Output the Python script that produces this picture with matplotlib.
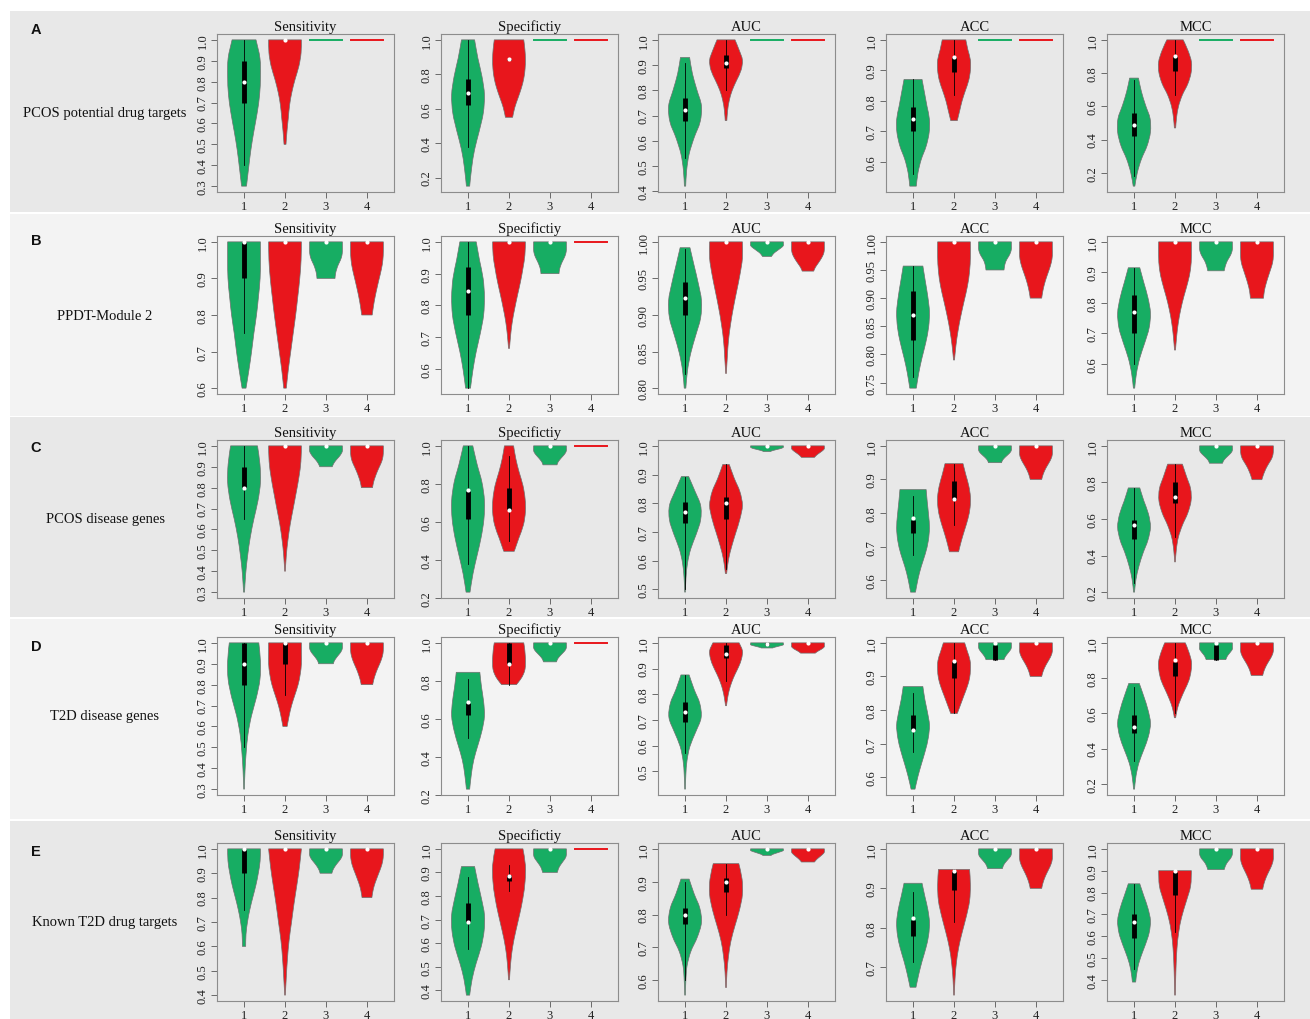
import numpy as np
import matplotlib
matplotlib.use("Agg")
import matplotlib.pyplot as plt
from matplotlib.path import Path
from matplotlib.patches import PathPatch, Rectangle

# each violin: (min, max, relative half-widths from min to max, (whisker lo, q1, median, q3, whisker hi))
ONE = (1.0, 1.0, 1.0, 1.0, 1.0)
FLAT = (1.0, 1.0, None, None)

row_letters = ["A", "B", "C", "D", "E"]
row_labels = ["PCOS potential drug targets", "PPDT-Module 2", "PCOS disease genes",
              "T2D disease genes", "Known T2D drug targets"]
metrics = ["Sensitivity", "Specifictiy", "AUC", "ACC", "MCC"]
groups = ["1", "2", "3", "4"]
group_colors = ["#17ad63", "#e8161c", "#17ad63", "#e8161c"]

A_sensitivity = [
    (0.30, 1.00, [0.15, 0.28, 0.42, 0.60, 0.80, 0.95, 1.00, 0.97, 0.73], (0.40, 0.70, 0.80, 0.90, 1.00)),
    (0.50, 1.00, [0.06, 0.12, 0.20, 0.28, 0.42, 0.62, 0.85, 0.98, 1.00], ONE),
    FLAT, FLAT]
A_specificity = [
    (0.15, 1.00, [0.10, 0.22, 0.40, 0.68, 0.93, 1.00, 0.85, 0.60, 0.40], (0.38, 0.62, 0.69, 0.77, 1.00)),
    (0.55, 1.00, [0.22, 0.35, 0.55, 0.75, 0.90, 0.98, 1.00, 0.97, 0.90], (0.89, 0.885, 0.89, 0.89, 0.89)),
    FLAT, FLAT]
A_auc = [
    (0.42, 0.93, [0.04, 0.10, 0.25, 0.55, 0.92, 1.00, 0.72, 0.45, 0.28], (0.53, 0.68, 0.72, 0.77, 0.91)),
    (0.68, 1.00, [0.05, 0.10, 0.20, 0.38, 0.65, 0.92, 1.00, 0.80, 0.55], (0.80, 0.89, 0.91, 0.94, 1.00)),
    FLAT, FLAT]
A_acc = [
    (0.52, 0.87, [0.20, 0.30, 0.50, 0.80, 0.98, 1.00, 0.85, 0.70, 0.55], (0.56, 0.70, 0.74, 0.78, 0.87)),
    (0.735, 1.00, [0.20, 0.35, 0.50, 0.70, 0.90, 1.00, 1.00, 0.85, 0.72], (0.82, 0.895, 0.945, 0.945, 1.00)),
    FLAT, FLAT]
A_mcc = [
    (0.12, 0.77, [0.05, 0.20, 0.45, 0.80, 1.00, 0.98, 0.70, 0.45, 0.27], (0.18, 0.42, 0.49, 0.56, 0.76)),
    (0.47, 1.00, [0.04, 0.10, 0.22, 0.45, 0.78, 0.98, 1.00, 0.80, 0.50], (0.67, 0.81, 0.90, 0.90, 1.00)),
    FLAT, FLAT]

B_sensitivity = [
    (0.60, 1.00, [0.12, 0.30, 0.46, 0.60, 0.76, 0.88, 0.98, 1.00, 1.00], (0.75, 0.90, 1.00, 1.00, 1.00)),
    (0.60, 1.00, [0.08, 0.20, 0.35, 0.50, 0.65, 0.78, 0.90, 0.98, 1.00], ONE),
    (0.90, 1.00, [0.55, 0.58, 0.65, 0.75, 0.88, 0.97, 1.00, 1.00, 1.00], ONE),
    (0.80, 1.00, [0.32, 0.40, 0.50, 0.62, 0.75, 0.88, 0.97, 1.00, 1.00], ONE)]
B_specificity = [
    (0.54, 1.00, [0.15, 0.30, 0.50, 0.75, 0.95, 1.00, 0.92, 0.70, 0.50], (0.54, 0.77, 0.845, 0.92, 1.00)),
    (0.665, 1.00, [0.03, 0.10, 0.20, 0.35, 0.52, 0.70, 0.85, 0.97, 1.00], ONE),
    (0.90, 1.00, [0.55, 0.58, 0.65, 0.75, 0.87, 0.96, 1.00, 1.00, 1.00], ONE),
    FLAT]
B_auc = [
    (0.80, 0.992, [0.05, 0.15, 0.35, 0.65, 0.95, 1.00, 0.80, 0.55, 0.30], (0.82, 0.90, 0.923, 0.945, 0.99)),
    (0.82, 1.00, [0.02, 0.08, 0.15, 0.28, 0.45, 0.65, 0.85, 1.00, 1.00], ONE),
    (0.98, 1.00, [0.27, 0.35, 0.45, 0.60, 0.75, 0.90, 1.00, 1.00, 1.00], ONE),
    (0.96, 1.00, [0.35, 0.45, 0.60, 0.75, 0.88, 0.97, 1.00, 1.00, 1.00], ONE)]
B_acc = [
    (0.74, 0.957, [0.20, 0.35, 0.55, 0.78, 0.95, 1.00, 0.90, 0.75, 0.60], (0.76, 0.826, 0.87, 0.913, 0.957)),
    (0.79, 1.00, [0.03, 0.12, 0.25, 0.42, 0.62, 0.82, 0.95, 1.00, 1.00], ONE),
    (0.95, 1.00, [0.55, 0.58, 0.63, 0.72, 0.85, 0.95, 1.00, 1.00, 1.00], ONE),
    (0.90, 1.00, [0.35, 0.42, 0.52, 0.65, 0.80, 0.93, 1.00, 1.00, 1.00], ONE)]
B_mcc = [
    (0.52, 0.915, [0.04, 0.15, 0.35, 0.65, 0.92, 1.00, 0.85, 0.60, 0.35], (0.60, 0.70, 0.77, 0.825, 0.915)),
    (0.645, 1.00, [0.03, 0.10, 0.20, 0.35, 0.55, 0.78, 0.95, 1.00, 1.00], ONE),
    (0.905, 1.00, [0.50, 0.55, 0.62, 0.72, 0.85, 0.95, 1.00, 1.00, 1.00], ONE),
    (0.815, 1.00, [0.40, 0.45, 0.55, 0.68, 0.82, 0.95, 1.00, 1.00, 1.00], ONE)]

C_sensitivity = [
    (0.30, 1.00, [0.03, 0.10, 0.22, 0.38, 0.60, 0.85, 1.00, 0.97, 0.82], (0.65, 0.80, 0.80, 0.90, 1.00)),
    (0.40, 1.00, [0.02, 0.08, 0.18, 0.32, 0.50, 0.68, 0.85, 0.97, 1.00], ONE),
    (0.90, 1.00, [0.38, 0.45, 0.55, 0.68, 0.82, 0.93, 1.00, 1.00, 1.00], ONE),
    (0.80, 1.00, [0.34, 0.40, 0.50, 0.62, 0.76, 0.90, 0.98, 1.00, 1.00], ONE)]
C_specificity = [
    (0.23, 1.00, [0.12, 0.30, 0.55, 0.80, 0.97, 1.00, 0.85, 0.55, 0.29], (0.38, 0.615, 0.77, 0.765, 1.00)),
    (0.445, 1.00, [0.32, 0.60, 0.88, 1.00, 0.98, 0.85, 0.62, 0.42, 0.28], (0.50, 0.665, 0.665, 0.78, 0.945)),
    (0.90, 1.00, [0.43, 0.48, 0.58, 0.70, 0.83, 0.94, 1.00, 1.00, 1.00], ONE),
    FLAT]
C_auc = [
    (0.49, 0.893, [0.02, 0.06, 0.15, 0.35, 0.68, 0.95, 0.95, 0.60, 0.22], (0.50, 0.73, 0.77, 0.805, 0.89)),
    (0.555, 0.935, [0.04, 0.15, 0.35, 0.60, 0.85, 1.00, 0.85, 0.50, 0.20], (0.57, 0.745, 0.80, 0.82, 0.935)),
    (0.98, 1.00, [0.20, 0.30, 0.45, 0.62, 0.80, 0.93, 1.00, 1.00, 1.00], ONE),
    (0.96, 1.00, [0.40, 0.48, 0.58, 0.70, 0.82, 0.93, 1.00, 1.00, 1.00], ONE)]
C_acc = [
    (0.565, 0.87, [0.15, 0.30, 0.50, 0.75, 0.93, 1.00, 0.95, 0.87, 0.80], (0.675, 0.74, 0.785, 0.78, 0.85)),
    (0.685, 0.947, [0.28, 0.45, 0.65, 0.85, 0.98, 1.00, 0.90, 0.72, 0.55], (0.765, 0.84, 0.842, 0.895, 0.947)),
    (0.95, 1.00, [0.40, 0.45, 0.55, 0.68, 0.82, 0.94, 1.00, 1.00, 1.00], ONE),
    (0.90, 1.00, [0.35, 0.42, 0.52, 0.65, 0.80, 0.93, 1.00, 1.00, 1.00], ONE)]
C_mcc = [
    (0.20, 0.77, [0.03, 0.12, 0.30, 0.55, 0.85, 1.00, 0.88, 0.60, 0.35], (0.25, 0.49, 0.565, 0.595, 0.77)),
    (0.365, 0.90, [0.02, 0.08, 0.20, 0.45, 0.78, 0.98, 0.95, 0.70, 0.45], (0.50, 0.69, 0.72, 0.80, 0.90)),
    (0.905, 1.00, [0.40, 0.45, 0.55, 0.68, 0.82, 0.94, 1.00, 1.00, 1.00], ONE),
    (0.815, 1.00, [0.30, 0.38, 0.48, 0.60, 0.75, 0.90, 0.98, 1.00, 1.00], ONE)]

D_sensitivity = [
    (0.30, 1.00, [0.02, 0.06, 0.13, 0.24, 0.45, 0.75, 0.97, 1.00, 0.90], (0.50, 0.80, 0.90, 1.00, 1.00)),
    (0.60, 1.00, [0.13, 0.25, 0.40, 0.60, 0.80, 0.93, 1.00, 1.00, 1.00], (0.75, 0.90, 1.00, 1.00, 1.00)),
    (0.90, 1.00, [0.45, 0.50, 0.60, 0.72, 0.85, 0.95, 1.00, 1.00, 1.00], ONE),
    (0.80, 1.00, [0.35, 0.42, 0.52, 0.64, 0.78, 0.90, 0.98, 1.00, 1.00], ONE)]
D_specificity = [
    (0.23, 0.845, [0.10, 0.20, 0.35, 0.60, 0.85, 1.00, 0.95, 0.82, 0.72], (0.50, 0.62, 0.69, 0.685, 0.81)),
    (0.78, 1.00, [0.45, 0.70, 0.88, 0.98, 1.00, 1.00, 0.98, 0.95, 0.90], (0.78, 0.89, 0.89, 1.00, 1.00)),
    (0.90, 1.00, [0.40, 0.45, 0.55, 0.68, 0.82, 0.94, 1.00, 1.00, 1.00], ONE),
    FLAT]
D_auc = [
    (0.43, 0.875, [0.02, 0.05, 0.12, 0.30, 0.65, 0.98, 0.90, 0.55, 0.25], (0.57, 0.69, 0.73, 0.77, 0.875)),
    (0.755, 1.00, [0.03, 0.10, 0.20, 0.35, 0.55, 0.78, 0.95, 1.00, 0.80], (0.85, 0.94, 0.955, 0.99, 1.00)),
    (0.98, 1.00, [0.35, 0.45, 0.60, 0.75, 0.90, 1.00, 1.00, 1.00, 1.00], (0.99, 0.99, 0.995, 1.00, 1.00)),
    (0.96, 1.00, [0.45, 0.55, 0.68, 0.82, 0.93, 1.00, 1.00, 1.00, 1.00], ONE)]
D_acc = [
    (0.565, 0.87, [0.12, 0.30, 0.52, 0.75, 0.93, 1.00, 0.88, 0.72, 0.60], (0.675, 0.74, 0.74, 0.785, 0.85)),
    (0.79, 1.00, [0.20, 0.40, 0.60, 0.80, 0.95, 1.00, 0.98, 0.82, 0.65], (0.79, 0.895, 0.945, 0.945, 1.00)),
    (0.95, 1.00, [0.55, 0.60, 0.68, 0.78, 0.88, 0.97, 1.00, 1.00, 1.00], (0.95, 0.95, 1.00, 0.995, 1.00)),
    (0.90, 1.00, [0.35, 0.42, 0.52, 0.65, 0.80, 0.93, 1.00, 1.00, 1.00], ONE)]
D_mcc = [
    (0.17, 0.77, [0.03, 0.12, 0.30, 0.60, 0.88, 1.00, 0.85, 0.60, 0.32], (0.33, 0.49, 0.525, 0.59, 0.75)),
    (0.575, 1.00, [0.04, 0.15, 0.35, 0.60, 0.85, 0.98, 1.00, 0.85, 0.63], (0.60, 0.81, 0.90, 0.89, 1.00)),
    (0.905, 1.00, [0.60, 0.65, 0.72, 0.82, 0.92, 1.00, 1.00, 1.00, 1.00], (0.905, 0.905, 1.00, 0.99, 1.00)),
    (0.815, 1.00, [0.35, 0.42, 0.52, 0.65, 0.80, 0.93, 1.00, 1.00, 1.00], ONE)]

E_sensitivity = [
    (0.60, 1.00, [0.10, 0.12, 0.21, 0.35, 0.53, 0.72, 0.87, 0.98, 1.00], (0.75, 0.90, 1.00, 1.00, 1.00)),
    (0.40, 1.00, [0.02, 0.08, 0.15, 0.25, 0.40, 0.55, 0.72, 0.88, 1.00], ONE),
    (0.90, 1.00, [0.36, 0.42, 0.52, 0.65, 0.80, 0.93, 1.00, 1.00, 1.00], ONE),
    (0.80, 1.00, [0.30, 0.36, 0.45, 0.58, 0.72, 0.86, 0.96, 1.00, 1.00], ONE)]
E_specificity = [
    (0.38, 0.925, [0.10, 0.25, 0.50, 0.80, 0.98, 1.00, 0.82, 0.60, 0.40], (0.575, 0.69, 0.69, 0.77, 0.88)),
    (0.445, 1.00, [0.03, 0.10, 0.22, 0.42, 0.65, 0.85, 0.98, 1.00, 0.85], (0.82, 0.865, 0.885, 0.89, 0.93)),
    (0.90, 1.00, [0.45, 0.50, 0.58, 0.70, 0.83, 0.95, 1.00, 1.00, 1.00], ONE),
    FLAT]
E_auc = [
    (0.555, 0.908, [0.02, 0.05, 0.12, 0.35, 0.75, 1.00, 0.90, 0.55, 0.25], (0.60, 0.77, 0.80, 0.82, 0.90)),
    (0.578, 0.955, [0.02, 0.06, 0.15, 0.30, 0.55, 0.82, 1.00, 0.98, 0.78], (0.80, 0.87, 0.90, 0.91, 0.955)),
    (0.98, 1.00, [0.25, 0.32, 0.45, 0.60, 0.75, 0.90, 1.00, 1.00, 1.00], ONE),
    (0.96, 1.00, [0.40, 0.48, 0.58, 0.70, 0.82, 0.93, 1.00, 1.00, 1.00], ONE)]
E_acc = [
    (0.65, 0.913, [0.18, 0.35, 0.55, 0.78, 0.95, 1.00, 0.90, 0.72, 0.55], (0.715, 0.78, 0.825, 0.82, 0.89)),
    (0.63, 0.948, [0.02, 0.06, 0.14, 0.28, 0.50, 0.75, 0.95, 1.00, 0.95], (0.815, 0.895, 0.945, 0.945, 0.948)),
    (0.95, 1.00, [0.45, 0.50, 0.58, 0.70, 0.83, 0.95, 1.00, 1.00, 1.00], ONE),
    (0.90, 1.00, [0.35, 0.42, 0.52, 0.65, 0.80, 0.93, 1.00, 1.00, 1.00], ONE)]
E_mcc = [
    (0.39, 0.84, [0.10, 0.20, 0.40, 0.68, 0.92, 1.00, 0.85, 0.60, 0.35], (0.45, 0.59, 0.665, 0.70, 0.84)),
    (0.33, 0.90, [0.02, 0.04, 0.07, 0.12, 0.22, 0.40, 0.68, 0.95, 1.00], (0.62, 0.79, 0.90, 0.895, 0.90)),
    (0.905, 1.00, [0.50, 0.55, 0.62, 0.72, 0.85, 0.95, 1.00, 1.00, 1.00], ONE),
    (0.815, 1.00, [0.35, 0.42, 0.52, 0.65, 0.80, 0.93, 1.00, 1.00, 1.00], ONE)]

panels = [
    [A_sensitivity, A_specificity, A_auc, A_acc, A_mcc],
    [B_sensitivity, B_specificity, B_auc, B_acc, B_mcc],
    [C_sensitivity, C_specificity, C_auc, C_acc, C_mcc],
    [D_sensitivity, D_specificity, D_auc, D_acc, D_mcc],
    [E_sensitivity, E_specificity, E_auc, E_acc, E_mcc],
]

# layout in pixels
W, H = 1310, 1020
band_top = [12, 215, 418, 620, 822]
band_bot = [213, 417, 618, 820, 1020]
band_col = ["#e8e8e8", "#f3f3f3", "#e8e8e8", "#f3f3f3", "#e8e8e8"]
box_top = [35, 237, 441, 638, 844]
box_h = 158
col_left = [217, 441, 658, 886, 1107]
box_w = 177
letter_y = [30, 241, 448, 647, 852]
HALF = 0.4

plt.rcParams['font.family'] = ['Liberation Serif', 'DejaVu Serif']
fig = plt.figure(figsize=(W / 100, H / 100), dpi=100)
fig.patch.set_facecolor("white")

for r in range(5):
    fig.patches.append(Rectangle((10 / W, 1 - band_bot[r] / H), (W - 10) / W,
                                 (band_bot[r] - band_top[r]) / H,
                                 transform=fig.transFigure, facecolor=band_col[r],
                                 edgecolor="none", zorder=-5))


def r_step(span, n=5):
    # R's pretty() unit choice
    cell = span / n
    U = 10 ** np.floor(np.log10(cell))
    unit = U
    if 2 * U - cell < 0.8 * (cell - unit):
        unit = 2 * U
        if 5 * U - cell < 1.7 * (cell - unit):
            unit = 5 * U
            if 10 * U - cell < 0.8 * (cell - unit):
                unit = 10 * U
    return unit


def smooth(pts):
    P = np.vstack([pts[0], pts, pts[-1]])
    out = []
    for i in range(1, len(P) - 2):
        c1 = P[i] + (P[i + 1] - P[i - 1]) / 6
        c2 = P[i + 1] - (P[i + 2] - P[i]) / 6
        out += [c1, c2, P[i + 1]]
    return out


def violin(ax, x0, lo, hi, widths, color):
    w = np.array(widths) * HALF
    ys = np.linspace(lo, hi, len(w))
    right = np.column_stack([x0 + w, ys])
    left = np.column_stack([x0 - w, ys])[::-1]
    verts = [left[-1], right[0]]
    codes = [Path.MOVETO, Path.LINETO]
    s = smooth(right)
    verts += s
    codes += [Path.CURVE4] * len(s)
    verts.append(left[0])
    codes.append(Path.LINETO)
    s = smooth(left)
    verts += s
    codes += [Path.CURVE4] * len(s)
    verts.append(left[-1])
    codes.append(Path.CLOSEPOLY)
    ax.add_patch(PathPatch(Path(verts, codes), facecolor=color,
                           edgecolor="#707070", lw=0.5, zorder=2))


for r in range(5):
    for c in range(5):
        data = panels[r][c]
        ax = fig.add_axes([col_left[c] / W, 1 - (box_top[r] + box_h) / H, box_w / W, box_h / H])
        ax.set_facecolor("none")
        lo_all = min(v[0] for v in data)
        hi_all = max(v[1] for v in data)
        span = hi_all - lo_all
        ylo, yhi = lo_all - 0.04 * span, hi_all + 0.04 * span
        ax.set_ylim(ylo, yhi)
        ax.set_xlim(0.34, 4.66)
        for i, (lo, hi, widths, box) in enumerate(data):
            x0 = i + 1
            col = group_colors[i]
            if widths is None:
                ax.plot([x0 - HALF, x0 + HALF], [lo, hi], color=col, lw=1.4, zorder=2)
                continue
            violin(ax, x0, lo, hi, widths, col)
            wlo, q1, med, q3, whi = box
            ax.plot([x0, x0], [wlo, whi], color="black", lw=0.6, zorder=3)
            ax.plot([x0, x0], [q1, q3], color="black", lw=3.5, solid_capstyle="butt", zorder=4)
            ax.plot([x0], [med], "o", color="white", ms=3, mec="none", zorder=5)
        step = r_step(yhi - ylo)
        ticks = np.arange(np.ceil(ylo / step - 1e-9) * step, yhi + 1e-9, step)
        dec = 2 if step < 0.1 - 1e-9 else 1
        ax.set_yticks(ticks)
        ax.set_yticklabels([f"{t:.{dec}f}" for t in ticks])
        ax.set_xticks(range(1, 5))
        ax.set_xticklabels(groups)
        ax.tick_params(axis="both", length=4, width=0.6, color="#555555",
                       labelsize=9, pad=2, labelcolor="#222222")
        ax.tick_params(axis="y", labelrotation=90)
        for lab in ax.get_yticklabels():
            lab.set_va("center")
        for sp in ax.spines.values():
            sp.set_color("#8c8c8c")
            sp.set_linewidth(0.8)
        ax.set_title(metrics[c], fontsize=10.5, pad=3, color="#111111")

    yc = 1 - (box_top[r] + box_h / 2) / H
    fig.text(105 / W, yc, row_labels[r], ha="center", va="center", fontsize=10.5, color="#111111")
    fig.text(36 / W, 1 - letter_y[r] / H, row_letters[r], ha="center", va="center",
             fontsize=10.5, fontweight="bold", family="Liberation Sans", color="#111111")

fig.savefig("out.png", dpi=100, facecolor="white")
